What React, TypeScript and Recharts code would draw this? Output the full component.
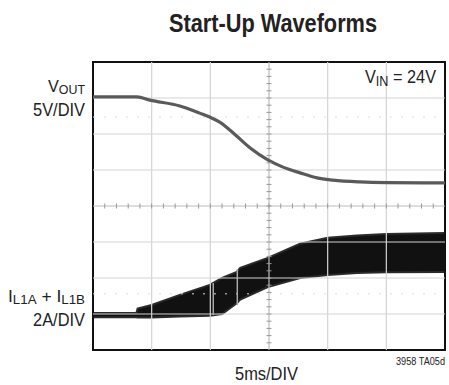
import React from "react";
import { ComposedChart, Line, Area, XAxis, YAxis, ReferenceLine, ReferenceArea, Scatter } from "recharts";

// time in divisions (5ms/DIV), amplitude in screen divisions (0 = bottom of the graticule)
const voutTime = [0, 0.75, 0.97, 1.48, 1.82, 1.99, 2.16, 2.39, 2.68, 2.98, 3.24, 3.53, 3.82, 4.09, 4.55, 5.0, 6];
const voutDiv = [7.03, 7.03, 6.94, 6.78, 6.58, 6.47, 6.33, 6.03, 5.61, 5.28, 5.08, 4.92, 4.78, 4.72, 4.67, 4.65, 4.64];

const ilTime = [0, 0.74, 0.76, 1.0, 1.48, 1.99, 2.2, 2.45, 2.51, 2.98, 3.53, 4.0, 4.5, 5.0, 6];
const ilLow = [0.91, 0.91, 0.9, 0.9, 0.93, 0.95, 1.0, 1.3, 1.4, 1.75, 2.0, 2.08, 2.14, 2.16, 2.17];
const ilHigh = [1.03, 1.03, 1.15, 1.25, 1.53, 1.81, 2.0, 2.17, 2.28, 2.56, 2.95, 3.12, 3.18, 3.22, 3.25];

// light gaps in the current envelope
const gapTime = [2.05, 2.46];
const gapLow = [0.97, 1.25];
const gapHigh = [1.86, 2.25];

const xDivs = [1, 2, 3, 4, 5];
const yDivs = [1, 2, 3, 4, 5, 6, 7];

const voutData = voutTime.map((t, i) => ({ t, v: voutDiv[i] }));
const ilData = ilTime.map((t, i) => ({ t, band: [ilLow[i], ilHigh[i]] }));

// minor graticule ticks on the centre lines (5 per division)
const hTicks: { t: number; v: number }[] = [];
for (let i = 1; i < 30; i++) hTicks.push({ t: i / 5, v: 4 });
const vTicks: { t: number; v: number }[] = [];
for (let i = 1; i < 40; i++) vTicks.push({ t: 3, v: i / 5 });

const font = "'Liberation Sans', Arial, sans-serif";
const grid = "#d4d4d4";

export default function App() {
  return (
    <div style={{ position: "absolute", left: 0, top: 0, width: 449, height: 385, background: "#fff" }}>
      <ComposedChart width={449} height={385} margin={{ top: 62, left: 93, right: 4, bottom: 35 }}>
        <XAxis type="number" dataKey="t" domain={[0, 6]} hide allowDataOverflow />
        <YAxis type="number" domain={[0, 8]} hide allowDataOverflow />
        {xDivs.map((x) => (
          <ReferenceLine key={"x" + x} x={x} stroke={x === 3 ? "#bbb" : grid} strokeWidth={1.2} />
        ))}
        {yDivs.map((y) => (
          <ReferenceLine key={"y" + y} y={y} stroke={y === 4 ? "#bbb" : grid} strokeWidth={1.2} />
        ))}
        <ReferenceLine y={6.47} stroke="#ddd" strokeDasharray="2 9" />
        <ReferenceLine y={1.56} stroke="#ddd" strokeDasharray="2 9" />
        <Scatter
          data={hTicks}
          dataKey="v"
          isAnimationActive={false}
          shape={(p: any) => <line x1={p.cx} x2={p.cx} y1={p.cy - 2.5} y2={p.cy + 2.5} stroke="#999" strokeWidth={1} />}
        />
        <Scatter
          data={vTicks}
          dataKey="v"
          isAnimationActive={false}
          shape={(p: any) => <line x1={p.cx - 2.5} x2={p.cx + 2.5} y1={p.cy} y2={p.cy} stroke="#999" strokeWidth={1} />}
        />
        <Area
          data={ilData}
          dataKey="band"
          type="linear"
          stroke="#2a2a2a"
          strokeWidth={2}
          fill="#111"
          fillOpacity={1}
          isAnimationActive={false}
          dot={false}
          activeDot={false}
        />
        {gapTime.map((t, i) => (
          <ReferenceLine
            key={"g" + i}
            segment={[{ x: t, y: gapLow[i] }, { x: t, y: gapHigh[i] }]}
            stroke="#aaa"
            strokeWidth={1.5}
          />
        ))}
        <Line
          data={voutData}
          dataKey="v"
          type="monotone"
          stroke="#5a5a5a"
          strokeWidth={3.2}
          dot={false}
          activeDot={false}
          isAnimationActive={false}
        />
        <ReferenceArea x1={0} x2={6} y1={0} y2={8} fill="none" stroke="#111" strokeWidth={2} ifOverflow="visible" />
      </ComposedChart>
      <svg width={449} height={385} style={{ position: "absolute", left: 0, top: 0, pointerEvents: "none" }}>
        <g fontFamily={font} fill="#222">
          <text x={169} y={32} fontSize={25} fontWeight="bold" textLength={208} lengthAdjust="spacingAndGlyphs">
            Start-Up Waveforms
          </text>
          <text x={48} y={92} fontSize={17} textLength={37} lengthAdjust="spacingAndGlyphs">
            V<tspan fontSize={13} dy={2}>OUT</tspan>
          </text>
          <text x={33} y={116} fontSize={19} textLength={52} lengthAdjust="spacingAndGlyphs">5V/DIV</text>
          <text x={365} y={83} fontSize={18} textLength={71} lengthAdjust="spacingAndGlyphs">
            V<tspan fontSize={14} dy={3}>IN</tspan>
            <tspan dy={-3}> = 24V</tspan>
          </text>
          <text x={8} y={302} fontSize={17} textLength={77} lengthAdjust="spacingAndGlyphs">
            I<tspan fontSize={13} dy={2}>L1A</tspan>
            <tspan dy={-2}> + I</tspan>
            <tspan fontSize={13} dy={2}>L1B</tspan>
          </text>
          <text x={33} y={326} fontSize={19} textLength={52} lengthAdjust="spacingAndGlyphs">2A/DIV</text>
          <text x={235} y={380} fontSize={18} textLength={63} lengthAdjust="spacingAndGlyphs">5ms/DIV</text>
          <text x={396} y={365} fontSize={10} textLength={49} lengthAdjust="spacingAndGlyphs">3958 TA05d</text>
        </g>
      </svg>
    </div>
  );
}
